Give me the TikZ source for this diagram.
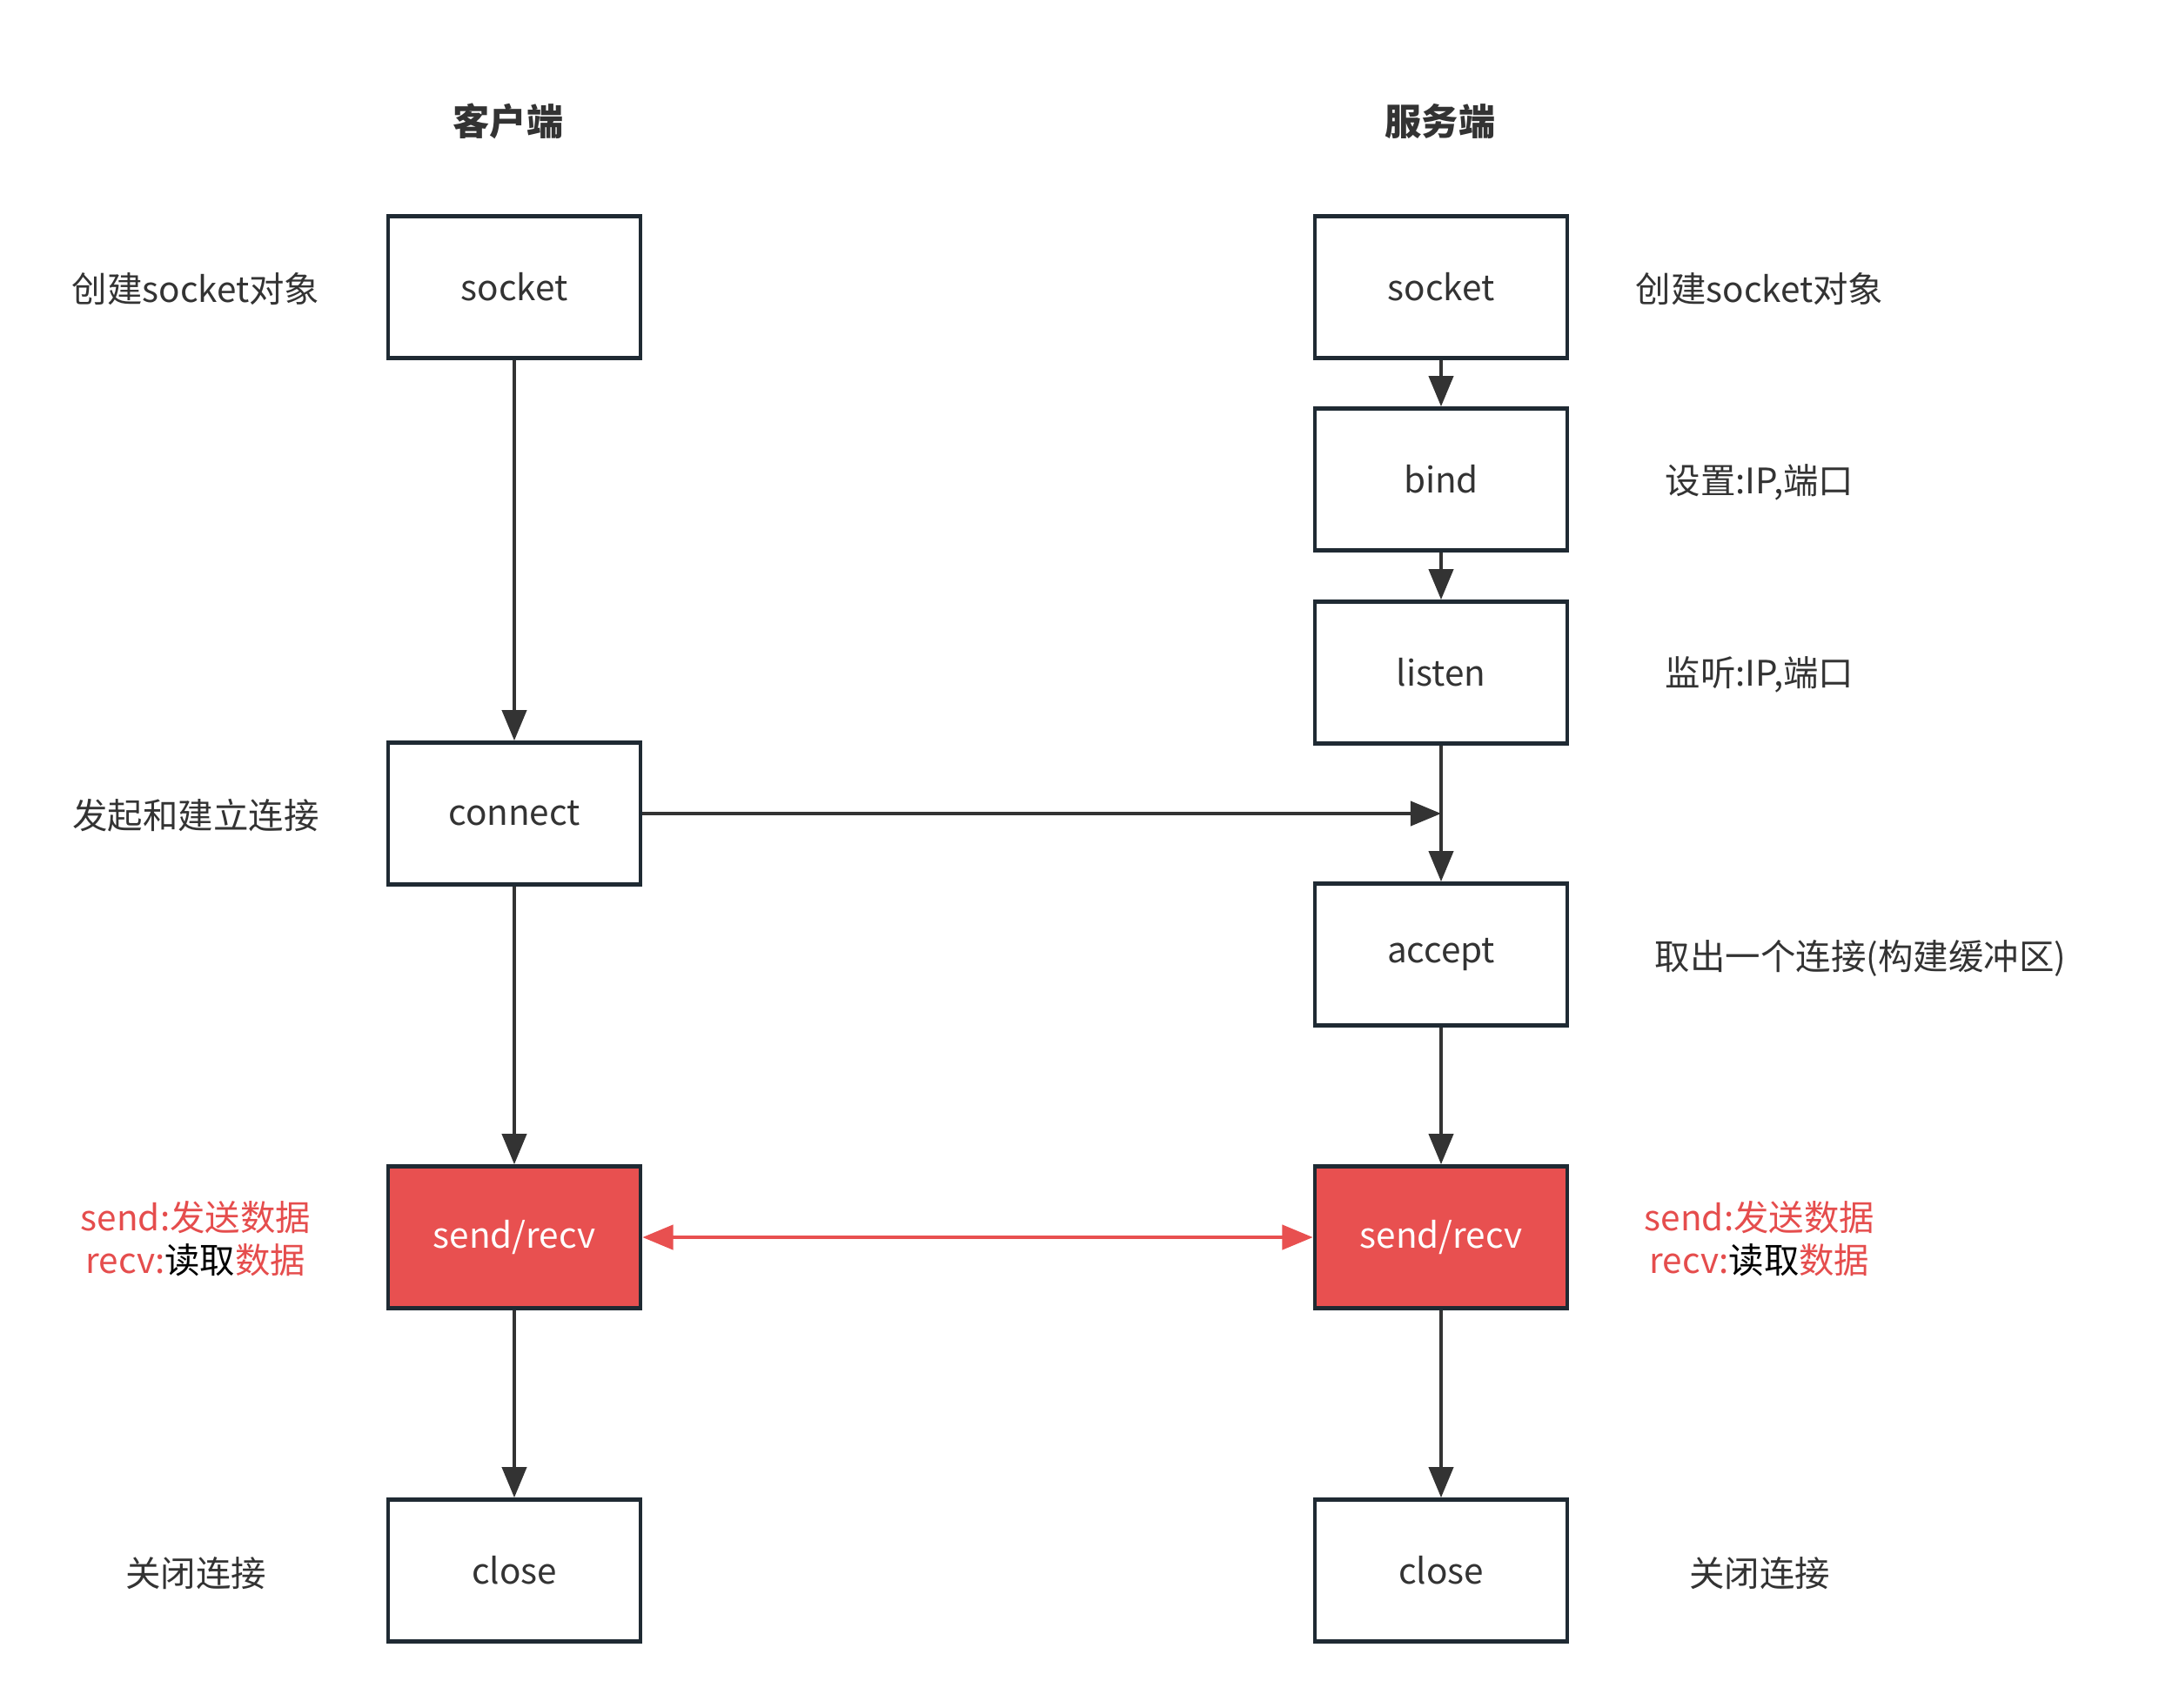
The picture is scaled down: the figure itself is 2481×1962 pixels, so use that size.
\documentclass[tikz,border=0pt]{standalone}
\usepackage{fontspec}
\setmainfont{Noto Sans CJK SC}
\usepackage{tikz}
\usetikzlibrary{arrows, arrows.meta}

\definecolor{linegray}{HTML}{333333}
\definecolor{boxline}{HTML}{1F2A33}
\definecolor{redfill}{HTML}{E85050}
\definecolor{redtext}{HTML}{E54D4D}

\tikzset{
  box/.style={draw=boxline, line width=1.3pt, minimum width=2.9cm, minimum height=1.63cm,
    font=\fontsize{11.5}{13}\selectfont, text=linegray},
  hotbox/.style={box, fill=redfill, text=white},
  note/.style={font=\fontsize{11.5}{14}\selectfont, text=linegray, align=center},
  head/.style={font=\fontsize{12}{14}\selectfont\bfseries, text=linegray},
  flow/.style={-{Triangle[length=10pt,width=8pt]}, line width=1.1pt, draw=linegray},
}

\begin{document}
\begin{tikzpicture}[x=0.01cm, y=-0.01cm]
  \useasboundingbox (0,0) rectangle (2481,1962);

  % Headers
  \node[head] (hcli) at (584,139) {客户端};
  \node[head] (hsrv) at (1655,139) {服务端};

  % Client side
  \node[box] (csock) at (591,330) {socket};
  \node[box] (cconn) at (591,935) {connect};
  \node[hotbox] (csend) at (591,1422) {send/recv};
  \node[box] (cclose) at (591,1805) {close};

  % Server side
  \node[box] (ssock) at (1656,330) {socket};
  \node[box] (sbind) at (1656,551) {bind};
  \node[box] (slist) at (1656,773) {listen};
  \node[box] (sacc) at (1656,1097) {accept};
  \node[hotbox] (ssend) at (1656,1422) {send/recv};
  \node[box] (sclose) at (1656,1805) {close};

  % Notes
  \node[note] (n1) at (225,332) {创建socket对象};
  \node[note] (n2) at (225,937) {发起和建立连接};
  \node[note] (n3) at (225,1424) {\textcolor{redtext}{send:发送数据}\\\textcolor{redtext}{recv:}\textcolor{black}{读取}\textcolor{redtext}{数据}};
  \node[note] (n4) at (225,1808) {关闭连接};
  \node[note] (m1) at (2022,332) {创建socket对象};
  \node[note] (m2) at (2022,554) {设置:IP,端口};
  \node[note] (m3) at (2022,775) {监听:IP,端口};
  \node[note] (m4) at (2138,1101) {取出一个连接(构建缓冲区)};
  \node[note] (m5) at (2022,1424) {\textcolor{redtext}{send:发送数据}\\\textcolor{redtext}{recv:}\textcolor{black}{读取}\textcolor{redtext}{数据}};
  \node[note] (m6) at (2022,1808) {关闭连接};

  % Coordinates
  \coordinate (join) at (slist.south |- cconn.east);

  % Drawing
  \draw[flow] (csock) -- (cconn);
  \draw[flow] (cconn) -- (csend);
  \draw[flow] (csend) -- (cclose);
  \draw[flow] (ssock) -- (sbind);
  \draw[flow] (sbind) -- (slist);
  \draw[flow] (slist) -- (sacc);
  \draw[flow] (sacc) -- (ssend);
  \draw[flow] (ssend) -- (sclose);
  \draw[flow] (cconn.east) -- (join);
  \draw[flow, {Triangle[length=10pt,width=8pt]}-{Triangle[length=10pt,width=8pt]}, draw=redfill, fill=redfill] (csend) -- (ssend);
\end{tikzpicture}
\end{document}
